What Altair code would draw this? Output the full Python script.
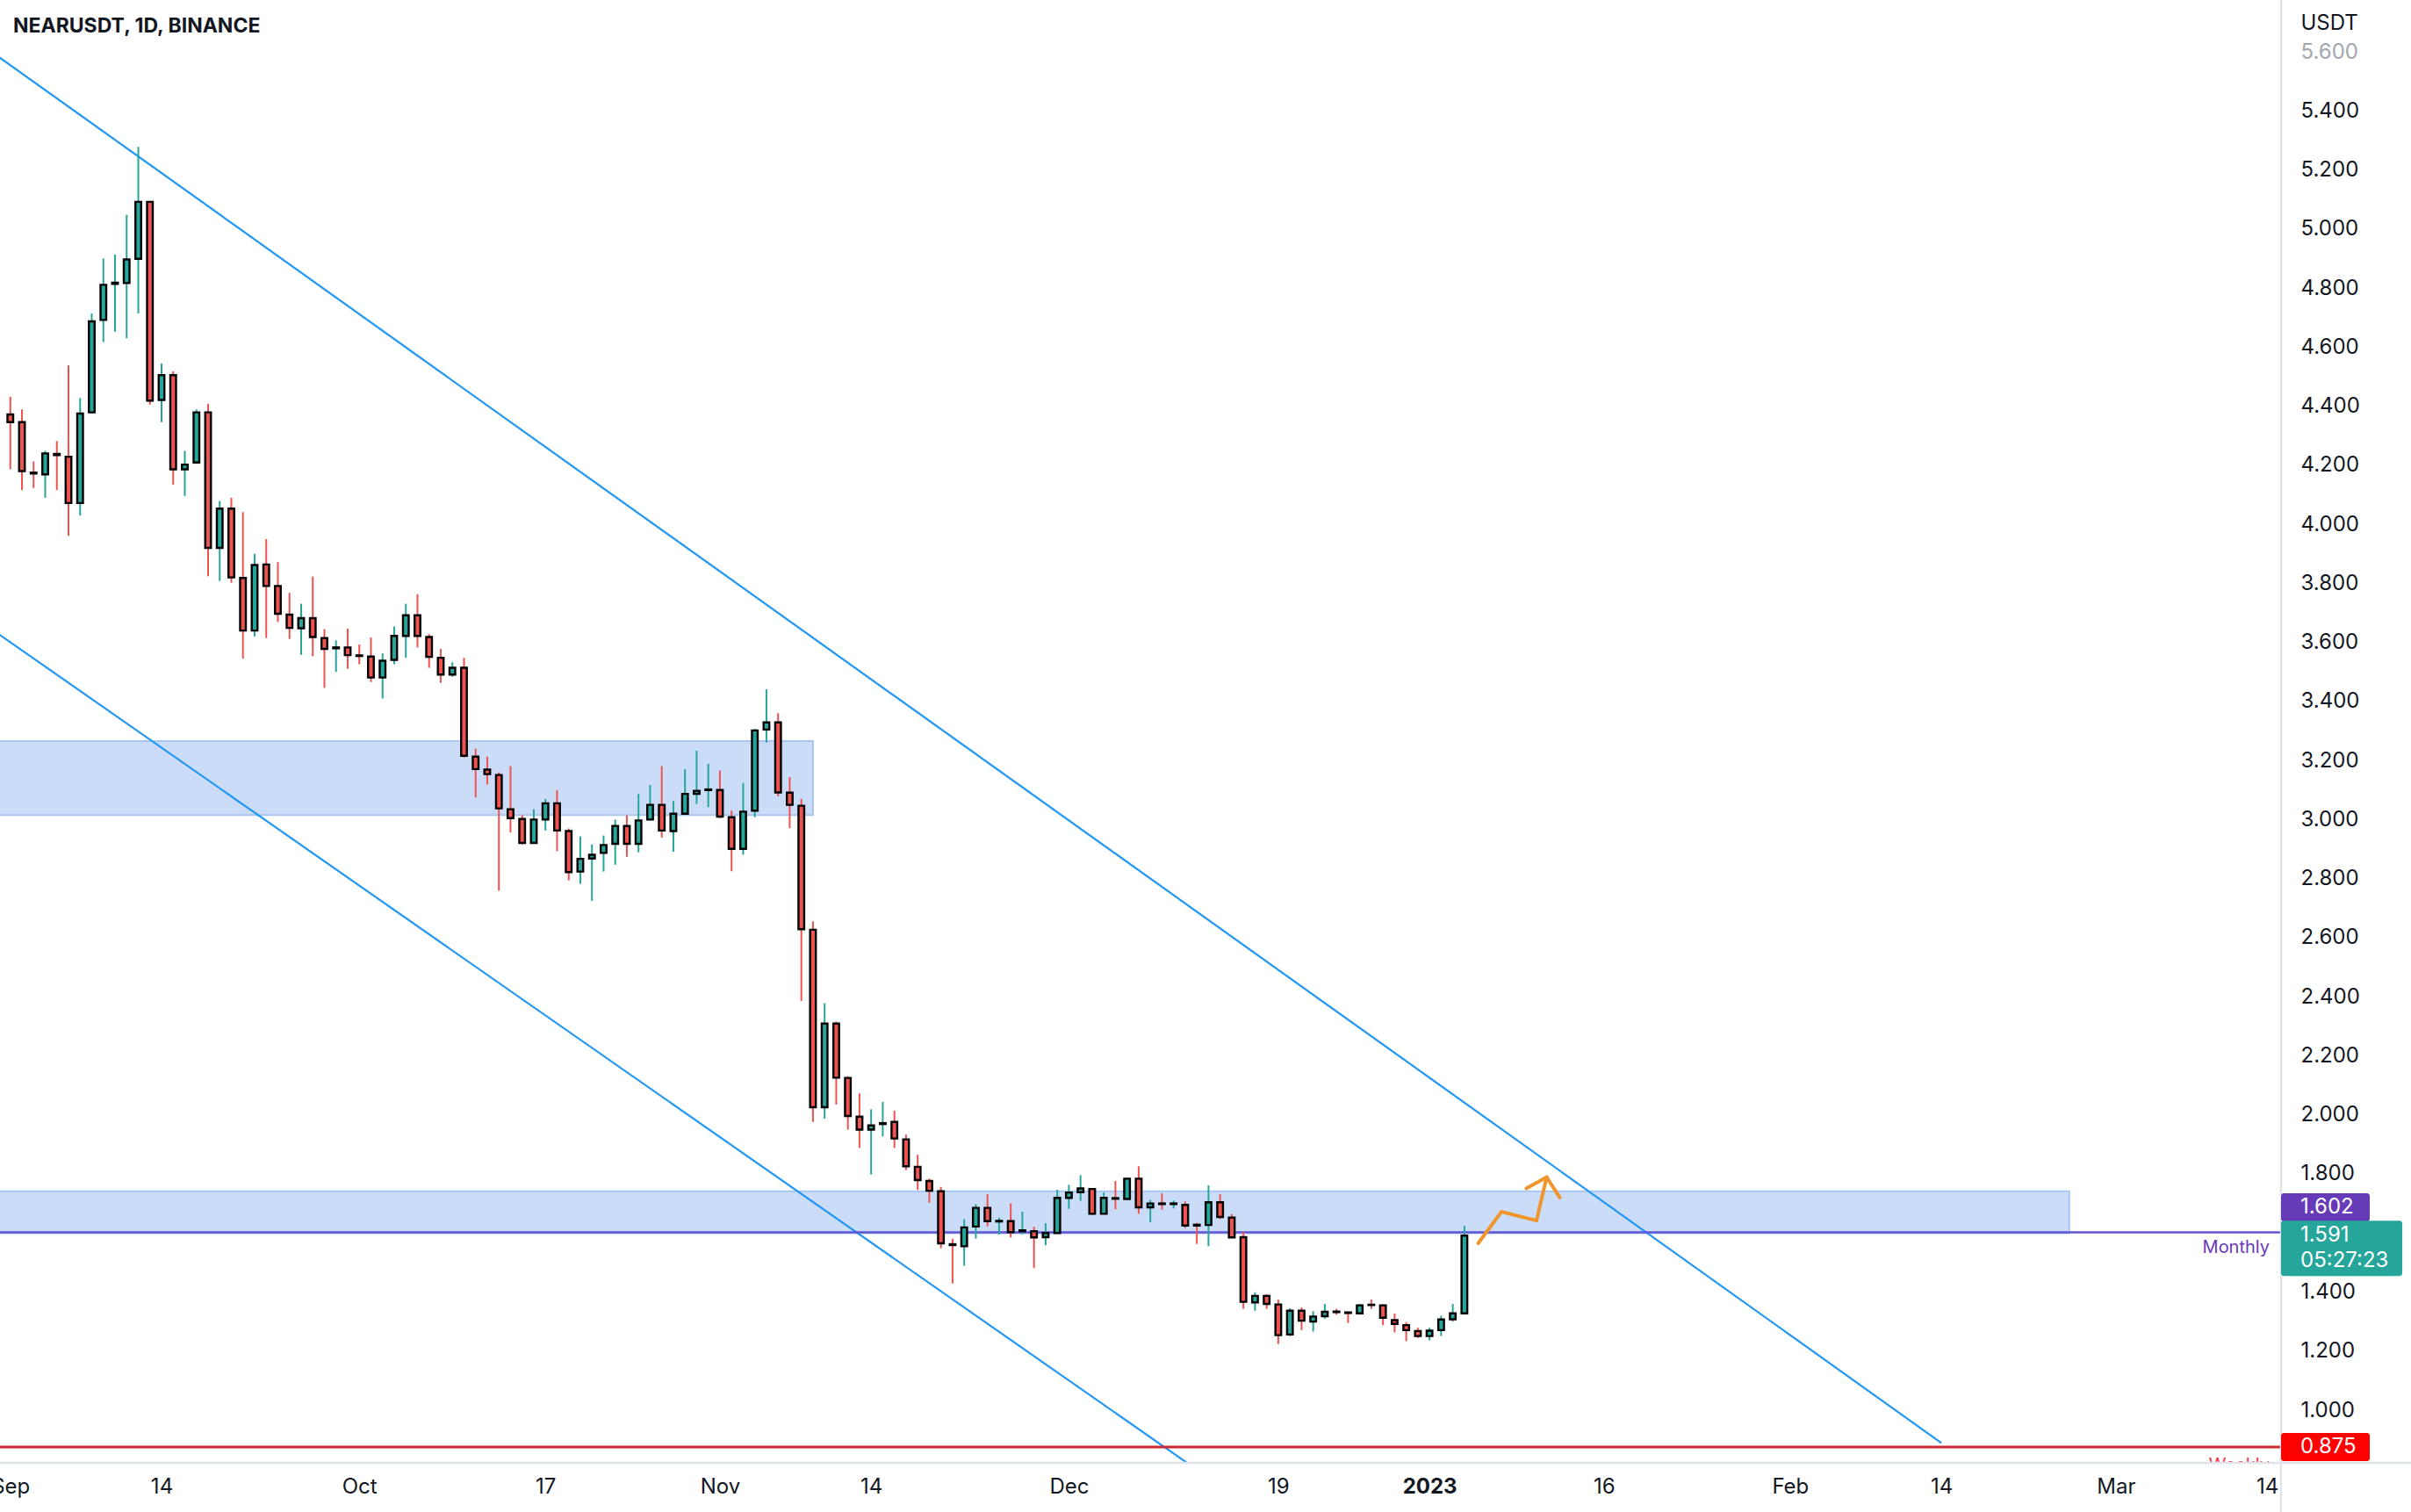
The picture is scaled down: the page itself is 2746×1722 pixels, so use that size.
import altair as alt
import pandas as pd

# ---------------- data ----------------
first_day = "2022-09-01"

opens = [4.372, 4.346, 4.175, 4.169, 4.238, 4.229, 4.072, 4.379, 4.692, 4.814,
         4.817, 4.899, 5.092, 4.421, 4.505, 4.186, 4.209, 4.379, 3.920, 4.053,
         3.818, 3.640, 3.864, 3.791, 3.694, 3.648, 3.682, 3.615, 3.580, 3.583,
         3.556, 3.552, 3.481, 3.541, 3.622, 3.692, 3.618, 3.548, 3.491, 3.514,
         3.213, 3.169, 3.151, 3.035, 3.002, 2.921, 3.000, 3.055, 2.961, 2.824,
         2.868, 2.887, 2.918, 2.978, 2.918, 3.000, 3.050, 2.961, 3.020, 3.087,
         3.100, 3.100, 3.008, 2.901, 3.030, 3.305, 3.329, 3.091, 3.047, 2.627,
         2.026, 2.309, 2.125, 1.994, 1.950, 1.969, 1.976, 1.917, 1.824, 1.776,
         1.741, 1.562, 1.555, 1.622, 1.685, 1.639, 1.640, 1.606, 1.606, 1.586,
         1.600, 1.719, 1.738, 1.749, 1.665, 1.718, 1.715, 1.784, 1.687, 1.700,
         1.698, 1.695, 1.628, 1.627, 1.704, 1.652, 1.586, 1.365, 1.387, 1.358,
         1.256, 1.337, 1.300, 1.318, 1.334, 1.331, 1.328, 1.357, 1.355, 1.305,
         1.288, 1.268, 1.251, 1.271, 1.308, 1.328]
highs = [4.432, 4.389, 4.213, 4.249, 4.282, 4.538, 4.428, 4.714, 4.900, 4.913,
         5.048, 5.278, 5.095, 4.545, 4.518, 4.249, 4.389, 4.408, 4.079, 4.090,
         4.041, 3.900, 3.950, 3.872, 3.768, 3.731, 3.823, 3.645, 3.607, 3.647,
         3.593, 3.617, 3.563, 3.654, 3.731, 3.763, 3.628, 3.578, 3.533, 3.548,
         3.240, 3.213, 3.160, 3.181, 3.015, 3.035, 3.070, 3.100, 2.970, 2.943,
         2.916, 2.946, 3.000, 3.015, 3.087, 3.117, 3.181, 3.063, 3.171, 3.233,
         3.189, 3.166, 3.030, 3.124, 3.307, 3.441, 3.360, 3.144, 3.070, 2.655,
         2.378, 2.316, 2.131, 2.073, 2.019, 2.044, 2.014, 1.933, 1.865, 1.784,
         1.756, 1.580, 1.647, 1.697, 1.731, 1.652, 1.700, 1.672, 1.621, 1.633,
         1.746, 1.763, 1.796, 1.751, 1.737, 1.776, 1.786, 1.826, 1.712, 1.734,
         1.710, 1.707, 1.634, 1.761, 1.731, 1.664, 1.605, 1.399, 1.393, 1.375,
         1.345, 1.348, 1.335, 1.360, 1.343, 1.332, 1.360, 1.375, 1.358, 1.327,
         1.298, 1.279, 1.279, 1.320, 1.360, 1.624]
lows = [4.186, 4.116, 4.123, 4.090, 4.116, 3.961, 4.030, 4.375, 4.617, 4.652,
        4.630, 4.714, 4.405, 4.346, 4.134, 4.096, 4.205, 3.824, 3.808, 3.802,
        3.545, 3.620, 3.615, 3.669, 3.612, 3.558, 3.553, 3.446, 3.500, 3.511,
        3.526, 3.466, 3.410, 3.526, 3.548, 3.583, 3.514, 3.463, 3.484, 3.210,
        3.075, 3.119, 2.759, 2.956, 2.916, 2.918, 2.963, 2.893, 2.794, 2.782,
        2.725, 2.824, 2.847, 2.874, 2.889, 2.998, 2.939, 2.891, 3.018, 3.053,
        3.042, 3.005, 2.825, 2.881, 3.008, 3.261, 3.079, 2.971, 2.386, 1.976,
        1.987, 2.035, 1.950, 1.888, 1.798, 1.927, 1.888, 1.813, 1.746, 1.702,
        1.548, 1.429, 1.489, 1.581, 1.622, 1.595, 1.585, 1.595, 1.481, 1.558,
        1.598, 1.682, 1.709, 1.660, 1.663, 1.680, 1.713, 1.665, 1.636, 1.679,
        1.683, 1.617, 1.563, 1.555, 1.647, 1.583, 1.343, 1.337, 1.343, 1.224,
        1.251, 1.271, 1.266, 1.310, 1.323, 1.295, 1.325, 1.343, 1.288, 1.263,
        1.234, 1.245, 1.236, 1.251, 1.300, 1.325]
closes = [4.346, 4.180, 4.172, 4.240, 4.234, 4.072, 4.375, 4.687, 4.811, 4.818,
          4.897, 5.092, 4.419, 4.505, 4.186, 4.202, 4.379, 3.920, 4.053, 3.820,
          3.640, 3.862, 3.791, 3.697, 3.649, 3.682, 3.618, 3.578, 3.583, 3.557,
          3.554, 3.481, 3.538, 3.622, 3.692, 3.622, 3.551, 3.491, 3.514, 3.216,
          3.171, 3.154, 3.038, 3.005, 2.921, 3.000, 3.055, 2.963, 2.822, 2.867,
          2.881, 2.914, 2.978, 2.918, 2.997, 3.050, 2.963, 3.020, 3.087, 3.097,
          3.102, 3.010, 2.901, 3.027, 3.302, 3.329, 3.092, 3.050, 2.629, 2.026,
          2.309, 2.126, 1.996, 1.950, 1.964, 1.972, 1.920, 1.826, 1.779, 1.743,
          1.565, 1.559, 1.619, 1.685, 1.640, 1.641, 1.603, 1.609, 1.585, 1.600,
          1.719, 1.737, 1.751, 1.665, 1.719, 1.716, 1.784, 1.687, 1.700, 1.698,
          1.700, 1.625, 1.625, 1.704, 1.654, 1.585, 1.367, 1.387, 1.360, 1.254,
          1.337, 1.303, 1.317, 1.333, 1.332, 1.329, 1.355, 1.356, 1.313, 1.292,
          1.271, 1.251, 1.269, 1.307, 1.328, 1.591]

# support / resistance zones
zone_start = ["2022-08-20T00:00:00", "2022-08-20T00:00:00"]
zone_end = ["2022-11-09T00:00:00", "2023-02-25T00:00:00"]
zone_low = [3.015, 1.599]
zone_high = [3.266, 1.741]

# trend lines (two points each)
upper_dates = ["2022-08-31T00:00:00", "2023-02-14T00:00:00"]
upper_prices = [5.583, 0.889]
lower_dates = ["2022-08-31T00:00:00", "2022-12-15T00:00:00"]
lower_prices = [3.628, 0.716]

# horizontal levels
monthly_level = 1.602
weekly_level = 0.875
last_close = 1.591
countdown = "05:27:23"

# orange projection arrow
arrow_dates = ["2023-01-05T04:19:00", "2023-01-07T04:34:00", "2023-01-10T04:48:00", "2023-01-11T01:41:00",
               "2023-01-09T07:41:00", "2023-01-11T01:41:00", "2023-01-12T04:48:00"]
arrow_prices = [1.565, 1.672, 1.642, 1.789, 1.751, 1.789, 1.720]
arrow_seg = ["path", "path", "path", "path", "head", "head", "head"]

# price-scale labels (1.600 sits under the price badges, so it is not shown)
y_ticks = [1.0, 1.2, 1.4, 1.8, 2.0, 2.2, 2.4, 2.6, 2.8, 3.0, 3.2, 3.4, 3.6, 3.8,
           4.0, 4.2, 4.4, 4.6, 4.8, 5.0, 5.2, 5.4, 5.6]
x_tick_dates = [(2022, 9, 1), (2022, 9, 14), (2022, 10, 1), (2022, 10, 17), (2022, 11, 1),
                (2022, 11, 14), (2022, 12, 1), (2022, 12, 19), (2023, 1, 1), (2023, 1, 16),
                (2023, 2, 1), (2023, 2, 14), (2023, 3, 1), (2023, 3, 14)]

# ---------------- tables ----------------
dates = pd.date_range(first_day, periods=len(opens), freq="D").strftime("%Y-%m-%dT%H:%M:%S")
candles = pd.DataFrame({"date": dates, "open": opens, "high": highs, "low": lows, "close": closes})
candles["dir"] = ["up" if c >= o else "down" for o, c in zip(opens, closes)]

zones = pd.DataFrame({"start": zone_start, "end": zone_end, "low": zone_low, "high": zone_high})
tlines = pd.DataFrame({
    "date": upper_dates + lower_dates,
    "price": upper_prices + lower_prices,
    "line": ["upper"] * 2 + ["lower"] * 2,
})
arrow = pd.DataFrame({"date": arrow_dates, "price": arrow_prices, "seg": arrow_seg,
                      "order": list(range(len(arrow_dates)))})

# ---------------- styling ----------------
W, H = 2597, 1665
FONT = "Inter"
TXT = "#131722"
GREEN = "#26a69a"
RED = "#ef5350"
GRID = "#e0e3eb"

xscale = alt.Scale(domain=[alt.DateTime(year=2022, month=8, date=31, hours=11, minutes=46),
                           alt.DateTime(year=2023, month=3, date=14, hours=18)])
yscale = alt.Scale(domain=[0.8246, 5.7755], nice=False, zero=False)

xaxis = alt.Axis(
    values=[alt.DateTime(year=y, month=m, date=d) for (y, m, d) in x_tick_dates],
    labelExpr="date(datum.value) == 1 ? (month(datum.value) == 0 ? timeFormat(datum.value, '%Y') : timeFormat(datum.value, '%b')) : '' + date(datum.value)",
    labelFontWeight=alt.condition("month(datum.value) == 0 && date(datum.value) == 1",
                                  alt.value("bold"), alt.value("normal")),
    labelFont=FONT, labelFontSize=24, labelColor=TXT, labelBaseline="middle",
    labelPadding=28, labelOverlap=False, ticks=False, tickSize=0, grid=False,
    domain=False, title=None,
)
yaxis = alt.Axis(
    orient="right", values=y_ticks, format=".3f",
    labelFont=FONT, labelFontSize=24, labelAlign="left", labelBaseline="middle",
    labelPadding=23, labelColor=alt.condition("datum.value > 5.55", alt.value("#a3a6af"), alt.value(TXT)),
    ticks=False, tickSize=0, grid=False, domain=False,
    title="USDT", titleAngle=0, titleAlign="left", titleBaseline="middle",
    titleX=23, titleY=26, titleFont=FONT, titleFontSize=24, titleFontWeight="normal", titleColor=TXT,
)


def X(field):
    return alt.X(field, type="temporal", scale=xscale, axis=xaxis)


def Y(field):
    return alt.Y(field, type="quantitative", scale=yscale, axis=yaxis)


color = alt.Color("dir:N", scale=alt.Scale(domain=["up", "down"], range=[GREEN, RED]), legend=None)

# zones
zone_layer = alt.Chart(zones).mark_rect(clip=True, fill="#cadcf7", stroke="#a9c6f0", strokeWidth=2).encode(
    x=X("start"), x2="end:T", y=Y("low"), y2="high:Q",
)

# trend lines
trend_layer = alt.Chart(tlines).mark_line(clip=True, color="#2196f3", strokeWidth=2.2).encode(
    x=X("date"), y=Y("price"), detail="line:N",
)

# horizontal levels
monthly_rule = alt.Chart(pd.DataFrame({"price": [monthly_level]})).mark_rule(
    color="#5f55d6", strokeWidth=2.5).encode(y=Y("price"))
weekly_rule = alt.Chart(pd.DataFrame({"price": [weekly_level]})).mark_rule(
    color="#cc2a31", strokeWidth=3).encode(y=Y("price"))

# candles
wick_layer = alt.Chart(candles).mark_rule(strokeWidth=2).encode(
    x=X("date"), y=Y("low"), y2="high:Q", color=color,
)
body_layer = alt.Chart(candles).mark_bar(size=6.5, stroke="black", strokeWidth=2.4).encode(
    x=X("date"), y=Y("open"), y2="close:Q", color=color,
)

# orange arrow
arrow_layer = alt.Chart(arrow).mark_line(color="#f0952c", strokeWidth=4, strokeCap="round",
                                          strokeJoin="miter").encode(
    x=X("date"), y=Y("price"), detail="seg:N", order="order:Q",
)

# texts on the plot
title_layer = alt.Chart(pd.DataFrame({"t": ["NEARUSDT, 1D, BINANCE"]})).mark_text(
    align="left", baseline="middle", font=FONT, fontSize=23, fontWeight="bold", color=TXT).encode(
    text="t:N", x=alt.value(15), y=alt.value(30))

monthly_text = alt.Chart(pd.DataFrame({"price": [monthly_level], "t": ["Monthly"]})).mark_text(
    align="right", baseline="middle", font=FONT, fontSize=20, color="#673ab7", dy=17).encode(
    text="t:N", x=alt.value(2585), y=Y("price"))
weekly_text = alt.Chart(pd.DataFrame({"price": [weekly_level], "t": ["Weekly"]})).mark_text(
    align="right", baseline="middle", font=FONT, fontSize=20, color="#f23645", dy=21, clip=True).encode(
    text="t:N", x=alt.value(2585), y=Y("price"))

# frame lines of the price / time scales
frame_v = alt.Chart(pd.DataFrame({"a": [0]})).mark_rule(color=GRID, strokeWidth=2.5).encode(
    x=alt.value(W + 1), y=alt.value(0), y2=alt.value(1722))
frame_h = alt.Chart(pd.DataFrame({"a": [0]})).mark_rule(color=GRID, strokeWidth=2.5).encode(
    x=alt.value(0), x2=alt.value(2746), y=alt.value(H + 1))
cover = alt.Chart(pd.DataFrame({"a": [0]})).mark_rect(color="white").encode(
    x=alt.value(W + 2), x2=alt.value(2746), y=alt.value(H + 3), y2=alt.value(1722))


# price badges on the axis
def badge(price, fill, top, bottom, right):
    d = pd.DataFrame({"price": [price]})
    return alt.Chart(d).mark_rect(fill=fill, cornerRadius=3, yOffset=top, y2Offset=bottom).encode(
        x=alt.value(W + 1), x2=alt.value(right), y=Y("price"), y2="price:Q")


purple_box = badge(monthly_level, "#673ab7", -44.5, -12.5, 2699)
green_box = badge(last_close, "#26a69a", -17, 46, 2736)
red_box = badge(weekly_level, "#ff0000", -16, 16, 2699)

badge_prices = [monthly_level, last_close, last_close, weekly_level]
badge_labels = [f"{monthly_level:.3f}", f"{last_close:.3f}", countdown, f"{weekly_level:.3f}"]
badge_shift = [-28.5, 0, 29, 0]
badge_text_layers = []
for p, t, s in zip(badge_prices, badge_labels, badge_shift):
    badge_text_layers.append(
        alt.Chart(pd.DataFrame({"price": [p], "t": [t]})).mark_text(
            align="left", baseline="middle", font=FONT, fontSize=24, color="white", dy=s).encode(
            text="t:N", x=alt.value(2620), y=Y("price"))
    )

chart = alt.layer(
    zone_layer, trend_layer, monthly_rule, weekly_rule, wick_layer, body_layer, arrow_layer,
    title_layer, monthly_text, weekly_text, frame_v, frame_h, cover,
    purple_box, green_box, red_box, *badge_text_layers,
).properties(
    width=W, height=H,
    autosize=alt.AutoSizeParams(type="none"),
    padding={"left": 0, "top": 0, "right": 2746 - W, "bottom": 1722 - H},
    background="white",
).configure_view(strokeWidth=0)

chart.save("out.html", embed_options={"renderer": "svg", "actions": False})
